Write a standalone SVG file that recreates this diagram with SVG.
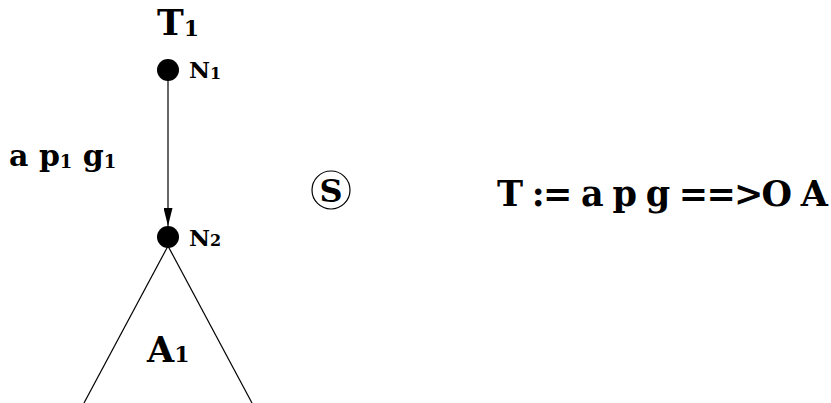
<svg xmlns="http://www.w3.org/2000/svg" width="831" height="403" viewBox="0 0 831 403">
<style>
text { font-family: "DejaVu Serif", "Liberation Serif", serif; font-weight: bold; fill: #000; }
.dot { fill: #000; }
.edge { stroke: #000; stroke-width: 1.2; fill: none; }
</style>
<defs>
<marker id="arr" viewBox="0 0 18 9" refX="18" refY="4.5" markerWidth="18" markerHeight="9" markerUnits="userSpaceOnUse" orient="auto">
<path d="M0,0 L18,4.5 L0,9 Z" fill="#000"/>
</marker>
</defs>
<rect width="831" height="403" fill="#fff"/>
<g id="tree-title">
<text x="157" y="35" font-size="36">T<tspan font-size="22" dy="1">1</tspan></text>
</g>
<g id="node-N1">
<circle class="dot" cx="168" cy="70" r="11"/>
<text x="189" y="78" font-size="23">N<tspan font-size="16" dy="1">1</tspan></text>
</g>
<g id="node-N2">
<circle class="dot" cx="168" cy="237" r="11"/>
<text x="189" y="246" font-size="23">N<tspan font-size="16">2</tspan></text>
</g>
<g id="connectors">
<line class="edge" x1="168" y1="80" x2="168" y2="226" marker-end="url(#arr)"/>
<line class="edge" x1="168" y1="246" x2="84" y2="403"/>
<line class="edge" x1="168" y1="246" x2="252" y2="403"/>
</g>
<g id="edge-label">
<text x="9" y="166" font-size="30">a p<tspan font-size="18" dy="2">1</tspan><tspan dy="-2"> g</tspan><tspan font-size="18" dy="2">1</tspan></text>
</g>
<g id="subtree-A1">
<text x="147" y="362" font-size="35">A<tspan font-size="22">1</tspan></text>
</g>
<g id="node-S">
<circle cx="331" cy="190" r="19" fill="none" stroke="#000" stroke-width="1.2"/>
<text x="331" y="202" font-size="32" text-anchor="middle">S</text>
</g>
<g id="rule">
<text x="497" y="206" font-size="35" textLength="331" lengthAdjust="spacing">T := a p g ==&gt;O A</text>
</g>
</svg>
